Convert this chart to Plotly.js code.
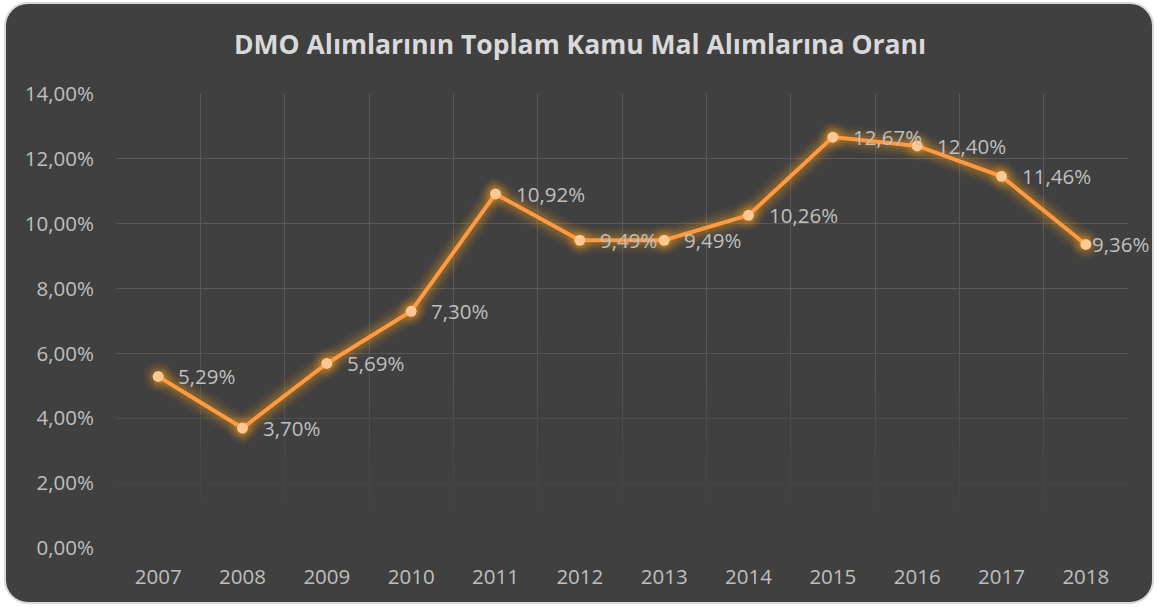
<!DOCTYPE html>
<html>
<head>
<meta charset="utf-8">
<script src="https://cdn.plot.ly/plotly-3.0.1.min.js"></script>
<style>
  html, body { margin: 0; padding: 0; background: #ffffff; width: 1160px; height: 607px; overflow: hidden; }
  #box { position: absolute; left: 4px; top: 2px; width: 1150px; height: 602px; background: #404040;
         border: 2px solid #d9d9d9; border-radius: 24px; box-sizing: border-box; }
  #chart { position: absolute; left: 0; top: 0; width: 1160px; height: 607px; }
</style>
</head>
<body>
<div id="box"></div>
<div id="chart"></div>
<script>
const years = ["2007","2008","2009","2010","2011","2012","2013","2014","2015","2016","2017","2018"];
const ratios = [5.29, 3.70, 5.69, 7.30, 10.92, 9.49, 9.49, 10.26, 12.67, 12.40, 11.46, 9.36];
const yTicks = [0, 2, 4, 6, 8, 10, 12, 14];
const yTickText = yTicks.map(v => v.toFixed(2).replace('.', ',') + '%');
const labels = ratios.map(v => v.toFixed(2).replace('.', ',') + '%');

const xi = years.map((_, i) => i);
const font = "'Open Sans', 'Noto Sans', sans-serif";
const lo = -0.5, hi = years.length - 0.5;

const glowLayers = [
  {w: 26, m: 30, a: 0.05},
  {w: 20, m: 25, a: 0.07},
  {w: 15, m: 20, a: 0.09},
  {w: 10, m: 16, a: 0.13}
];

const traces = [
  // fade-out of grid toward bottom
  {
    x: [lo, hi, hi, lo, lo], y: [-1, -1, 6.5, 6.5, -1],
    mode: 'lines', line: {width: 0}, fill: 'toself',
    fillgradient: {type: 'vertical', start: 0.8, stop: 6.5,
      colorscale: [[0, 'rgba(64,64,64,1)'], [1, 'rgba(64,64,64,0)']]},
    hoverinfo: 'skip', showlegend: false
  }
].concat(glowLayers.map(g => ({
    x: xi, y: ratios, mode: 'lines+markers',
    line: {color: 'rgba(255,165,30,' + g.a + ')', width: g.w},
    marker: {size: g.m, color: 'rgba(255,165,30,' + g.a + ')'},
    hoverinfo: 'skip', showlegend: false
}))).concat([
  // main line
  {
    x: xi, y: ratios, mode: 'lines+markers',
    line: {color: '#ff9a40', width: 4},
    marker: {size: 11, color: '#ffc792', line: {width: 0}},
    showlegend: false
  }
]);

const annotations = labels.map((t, i) => ({
  x: xi[i], y: ratios[i], text: t, showarrow: false,
  xanchor: 'left', yanchor: 'middle', xshift: i === labels.length - 1 ? 4 : 18,
  font: {family: font, size: 20.5, color: '#bfbfbf'}
}));

const layout = {
  width: 1160, height: 607,
  paper_bgcolor: 'rgba(0,0,0,0)', plot_bgcolor: 'rgba(0,0,0,0)',
  margin: {l: 116, r: 32, t: 94, b: 59},
  showlegend: false,
  annotations: annotations,
  title: {text: '<b>DMO Alımlarının Toplam Kamu Mal Alımlarına Oranı</b>',
    font: {family: font, size: 26.5, color: '#d9d9d9'},
    x: 0.5, xanchor: 'center', y: 0.927, yanchor: 'middle'},
  xaxis: {
    range: [lo, hi], tickvals: xi, ticktext: years,
    showgrid: false, showline: false, zeroline: false, ticks: '', ticklabelstandoff: 14,
    tickfont: {family: font, size: 20.5, color: '#bfbfbf'},
    minor: {tick0: lo, dtick: 1, showgrid: true, gridcolor: '#595959', gridwidth: 1, ticks: ''}
  },
  yaxis: {
    range: [0, 14], tickvals: yTicks, ticktext: yTickText,
    showgrid: true, gridcolor: '#595959', gridwidth: 1,
    zeroline: false, showline: false, ticks: '', ticklabelstandoff: 21,
    tickfont: {family: font, size: 20.5, color: '#bfbfbf'}
  }
};

Plotly.newPlot('chart', traces, layout, {displayModeBar: false, staticPlot: true});
</script>
</body>
</html>
